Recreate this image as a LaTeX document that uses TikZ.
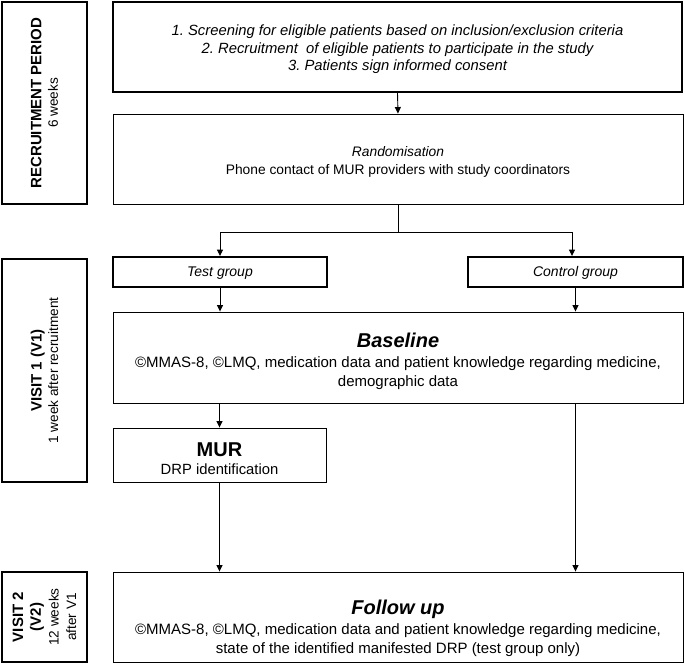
\documentclass[tikz,border=0pt]{standalone}
\usepackage{fontspec}
\setmainfont{Liberation Sans}
\usetikzlibrary{arrows.meta}
\frenchspacing

\begin{document}
\begin{tikzpicture}[x=1pt,y=-1pt,
  every node/.style={font=\fontsize{13.8}{17.5}\selectfont, align=center, inner sep=0pt},
  thickbox/.style={draw, line width=1.9pt},
  thinbox/.style={draw, line width=0.9pt},
  sidebox/.style={thickbox, rotate=90, font=\fontsize{13.6}{16.5}\selectfont},
  groupbox/.style={thickbox, minimum height=30pt, text height=12pt, font=\fontsize{14}{17}\selectfont\itshape},
  bodytext/.style={font=\fontsize{15}{19}\selectfont},
  arr/.style={-{Triangle[length=6.5pt,width=6pt]}, line width=0.9pt}]

\useasboundingbox (0,0) rectangle (685,664);

% periods on the left
\node[sidebox, minimum width=202pt, minimum height=85pt] (recperiod) at (44.5,103)
  {{\fontsize{15}{16.5}\selectfont\bfseries RECRUITMENT PERIOD}\\6 weeks};
\node[sidebox, minimum width=223pt, minimum height=85pt] (visitone) at (44.5,370.5)
  {{\fontsize{15}{16.5}\selectfont\bfseries VISIT 1 (V1)}\\1 week after recruitment};
\node[sidebox, minimum width=90pt, minimum height=85pt, font=\fontsize{13.6}{17.7}\selectfont] (visittwo) at (44.5,617)
  {{\fontsize{15}{17.7}\selectfont\bfseries VISIT 2}\\{\fontsize{15}{17.7}\selectfont\bfseries (V2)}\\12 weeks\\after V1};

% flow boxes
\node[thickbox, minimum width=569pt, minimum height=90pt] (screening) at (397.5,47) {};
\node[font=\fontsize{14.8}{17.5}\selectfont\itshape] (screeningtext) at ([yshift=-2.5pt]screening.center)
  {1. Screening for eligible patients based on inclusion/exclusion criteria\\
   2. Recruitment\ \ of eligible patients to participate in the study\\
   3. Patients sign informed consent};
\node[thinbox, minimum width=570pt, minimum height=90pt] (random) at (398,159) {};
\node (randomtext) at ([yshift=-3pt]random.center)
  {\itshape Randomisation\\Phone contact of MUR providers with study coordinators};

\node[groupbox, minimum width=214pt] (testgrp) at (220,272) {Test group};
\node[groupbox, minimum width=215pt] (ctrlgrp) at (575.5,272) {Control group};

\node[thinbox, minimum width=570pt, minimum height=91pt] (baseline) at (398,357.5) {};
\node[bodytext, anchor=north] (baselinetext) at ([yshift=-21pt]baseline.north)
  {{\fontsize{20}{24}\selectfont\bfseries\itshape Baseline}\\[1pt]
   ©MMAS-8, ©LMQ, medication data and patient knowledge regarding medicine,\\
   demographic data};
\node[thinbox, minimum width=213pt, minimum height=54pt] (mur) at (219.5,455) {};
\node[font=\fontsize{14.8}{18}\selectfont] (murtext) at ([yshift=-3.5pt]mur.center)
  {{\fontsize{20}{24}\selectfont\bfseries MUR}\\DRP identification};
\node[thinbox, minimum width=570pt, minimum height=90pt] (followup) at (398,617) {};
\node[bodytext, anchor=north] (followuptext) at ([yshift=-28pt]followup.north)
  {{\fontsize{20}{24}\selectfont\bfseries\itshape Follow up}\\[1pt]
   ©MMAS-8, ©LMQ, medication data and patient knowledge regarding medicine,\\
   state of the identified manifested DRP (test group only)};

% connectors
\draw[arr] (screening.south) -- (random.north);
\draw[line width=0.9pt] (random.south) -- ++(0,28) coordinate (split);
\draw[arr] (split) -| (testgrp.north);
\draw[arr] (split) -| ([xshift=-3.5pt]ctrlgrp.north);
\draw[arr] (testgrp.south) -- (testgrp.south |- baseline.north);
\draw[arr] (ctrlgrp.south) -- (ctrlgrp.south |- baseline.north);
\draw[arr] (mur.north |- baseline.south) -- (mur.north);
\draw[arr] (mur.south) -- (mur.south |- followup.north);
\draw[arr] (ctrlgrp.south |- baseline.south) -- (ctrlgrp.south |- followup.north);

\end{tikzpicture}
\end{document}
